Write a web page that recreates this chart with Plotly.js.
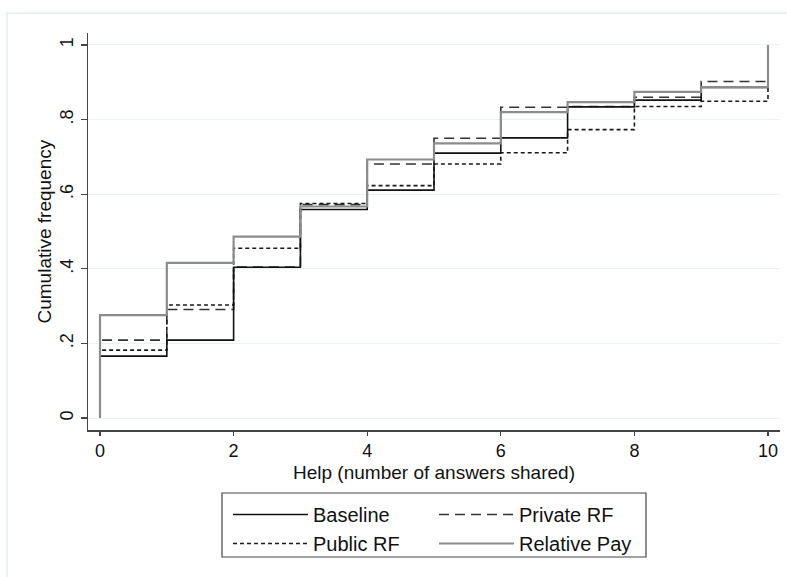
<!DOCTYPE html>
<html>
<head>
<meta charset="utf-8">
<script src="https://cdn.plot.ly/plotly-3.0.1.min.js"></script>
<style>html,body{margin:0;padding:0;background:#fff;}#chart{width:787px;height:577px;}</style>
</head>
<body>
<div id="chart"></div>
<script>
// Help (number of answers shared): step positions
const helpValues = [0, 0, 1, 2, 3, 4, 5, 6, 7, 8, 9, 10];
// Cumulative frequency per treatment (first point = 0 at help 0)
const baseline    = [0, 0.166, 0.209, 0.404, 0.559, 0.611, 0.710, 0.751, 0.834, 0.852, 0.886, 1];
const privateRF   = [0, 0.209, 0.291, 0.405, 0.572, 0.681, 0.750, 0.833, 0.835, 0.860, 0.902, 1];
const publicRF    = [0, 0.182, 0.303, 0.455, 0.575, 0.623, 0.681, 0.711, 0.773, 0.835, 0.849, 1];
const relativePay = [0, 0.276, 0.416, 0.486, 0.567, 0.693, 0.736, 0.820, 0.847, 0.874, 0.887, 1];

const yTickVals = [0, 0.2, 0.4, 0.6, 0.8, 1];
const yTickText = ['0', '.2', '.4', '.6', '.8', '1'];
const xTickVals = [0, 2, 4, 6, 8, 10];
const xTitle = 'Help (number of answers shared)';
const yTitle = 'Cumulative frequency';

const traces = [
  {x: helpValues, y: privateRF, name: 'Private RF', legend: 'legend2', legendrank: 1, mode: 'lines', line: {shape: 'hv', color: '#333333', width: 1.6, dash: '10px,6px'}},
  {x: helpValues, y: publicRF, name: 'Public RF', legend: 'legend', legendrank: 2, mode: 'lines', line: {shape: 'hv', color: '#1a1a1a', width: 1.6, dash: '4px,3px'}},
  {x: helpValues, y: baseline, name: 'Baseline', legend: 'legend', legendrank: 1, mode: 'lines', line: {shape: 'hv', color: '#111111', width: 1.6}},
  {x: helpValues, y: relativePay, name: 'Relative Pay', legend: 'legend2', legendrank: 2, mode: 'lines', line: {shape: 'hv', color: '#8c8c8c', width: 2.2}}
];

const legendCommon = {
  xref: 'container', yref: 'container', xanchor: 'left', yanchor: 'top',
  bgcolor: 'rgba(0,0,0,0)', borderwidth: 0, itemwidth: 75,
  font: {size: 20, color: '#111'}, traceorder: 'normal', tracegroupgap: 0
};

const layout = {
  width: 787, height: 577,
  margin: {l: 88, r: 7, t: 33, b: 147, autoexpand: false},
  paper_bgcolor: '#ffffff', plot_bgcolor: '#ffffff',
  font: {family: 'Liberation Sans, Arial, sans-serif', color: '#111', size: 20},
  showlegend: true,
  xaxis: {
    range: [-0.18, 10.18], tickvals: xTickVals, ticktext: xTickVals.map(String),
    showgrid: false, zeroline: false, showline: true, linecolor: '#444', linewidth: 1.5,
    ticks: 'outside', ticklen: 4, tickcolor: '#444', tickwidth: 1.2,
    tickfont: {size: 18}, automargin: false
  },
  yaxis: {
    range: [-0.032, 1.032], tickvals: yTickVals, ticktext: yTickText, tickangle: -90,
    showgrid: true, gridcolor: '#e9f1f4', gridwidth: 1, zeroline: false,
    showline: true, linecolor: '#444', linewidth: 1.5,
    ticks: 'outside', ticklen: 6, tickcolor: '#444', tickwidth: 1.2,
    tickfont: {size: 18}, automargin: false
  },
  annotations: [
    {text: xTitle, xref: 'paper', yref: 'paper', x: 0.5, y: (430 - 472) / 397,
     xanchor: 'center', yanchor: 'middle', showarrow: false, font: {size: 19, color: '#111'}},
    {text: yTitle, xref: 'paper', yref: 'paper', x: (44 - 88) / 692, y: 0.5, textangle: -90,
     xanchor: 'center', yanchor: 'middle', showarrow: false, font: {size: 19, color: '#111'}}
  ],
  legend: Object.assign({}, legendCommon, {x: 228 / 787, y: 1 - 495 / 577}),
  legend2: Object.assign({}, legendCommon, {x: 434 / 787, y: 1 - 495 / 577}),
  shapes: [
    {type: 'rect', xref: 'paper', yref: 'paper', x0: -0.117, x1: 1.2, y0: -0.6, y1: 1.05,
     line: {color: '#e4eeee', width: 1.5}, fillcolor: 'rgba(0,0,0,0)', layer: 'below'},
    {type: 'rect', xref: 'paper', yref: 'paper',
     x0: (222 - 88) / 692, x1: (646 - 88) / 692, y0: (430 - 557) / 397, y1: (430 - 493) / 397,
     line: {color: '#444', width: 1.2}, fillcolor: 'rgba(0,0,0,0)', layer: 'above'}
  ]
};

Plotly.newPlot('chart', traces, layout, {displayModeBar: false, staticPlot: true});
</script>
</body>
</html>
